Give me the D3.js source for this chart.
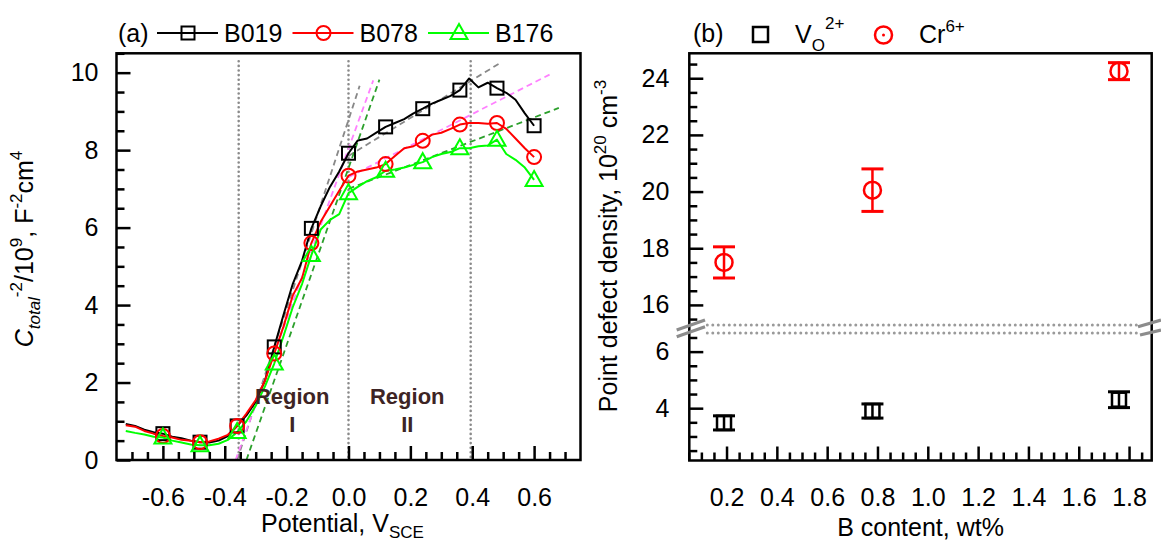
<!DOCTYPE html>
<html>
<head>
<meta charset="utf-8">
<script src="https://cdn.jsdelivr.net/npm/d3@7"></script>
<style>
  body { margin: 0; background: #fff; }
  text { font-family: "Liberation Sans", Arial, sans-serif; }
</style>
</head>
<body>
<div id="chart"></div>
<script>
// ---- panel (a) data : Mott-Schottky curves ----
const potential = [-0.72, -0.69, -0.66, -0.63, -0.60, -0.57, -0.54, -0.51, -0.48, -0.45,
  -0.42, -0.39, -0.36, -0.33, -0.30, -0.27, -0.24, -0.21, -0.18, -0.15,
  -0.12, -0.09, -0.06, -0.03, 0.00, 0.03, 0.06, 0.09, 0.12, 0.15,
  0.18, 0.21, 0.24, 0.27, 0.30, 0.33, 0.36, 0.39, 0.42, 0.45,
  0.48, 0.51, 0.54, 0.57, 0.60];
const b019 = [0.93, 0.88, 0.78, 0.72, 0.68, 0.60, 0.56, 0.50, 0.46, 0.45,
  0.50, 0.62, 0.88, 1.15, 1.50, 2.05, 2.92, 3.75, 4.55, 5.15,
  5.98, 6.55, 7.05, 7.45, 7.92, 8.25, 8.30, 8.45, 8.60, 8.70,
  8.80, 8.95, 9.07, 9.20, 9.30, 9.40, 9.55, 9.85, 9.62, 9.74,
  9.60, 9.48, 9.30, 8.95, 8.63];
const b078 = [0.90, 0.86, 0.75, 0.68, 0.62, 0.58, 0.52, 0.50, 0.46, 0.48,
  0.55, 0.65, 0.88, 1.20, 1.55, 2.05, 2.75, 3.45, 4.25, 4.70,
  5.60, 6.15, 6.55, 6.95, 7.34, 7.45, 7.50, 7.55, 7.64, 7.85,
  8.05, 8.10, 8.24, 8.40, 8.45, 8.55, 8.66, 8.70, 8.70, 8.68,
  8.70, 8.55, 8.30, 8.05, 7.82];
const b176 = [0.75, 0.70, 0.66, 0.60, 0.58, 0.50, 0.45, 0.40, 0.38, 0.38,
  0.42, 0.52, 0.72, 1.00, 1.40, 1.90, 2.49, 3.20, 3.95, 4.55,
  5.29, 5.95, 6.20, 6.35, 6.89, 7.05, 7.20, 7.30, 7.47, 7.50,
  7.55, 7.62, 7.69, 7.82, 7.90, 7.95, 8.05, 8.05, 8.10, 8.12,
  8.27, 7.90, 7.75, 7.55, 7.23];
const seriesNames = ['B019', 'B078', 'B176'];

// linear fits (start / end points, potential and C^-2)
const fit1Start = [[-0.36, 0], [-0.365, 0], [-0.33, 0]];
const fit1End = [[0.036, 9.66], [0.08, 9.8], [0.10, 9.82]];
const fit2Start = [[0.0, 7.85], [0.0, 7.3], [0.0, 7.0]];
const fit2End = [[0.49, 10.25], [0.65, 9.95], [0.68, 9.09]];
const regionBounds = [-0.355, 0.0, 0.395];

const aXTicks = [-0.6, -0.4, -0.2, 0.0, 0.2, 0.4, 0.6];
const aYTicks = [0, 2, 4, 6, 8, 10];

// ---- panel (b) data : point defect density ----
const bContent = [0.19, 0.78, 1.76];
const voDensity = [3.48, 3.90, 4.30];
const voErr = [0.25, 0.25, 0.28];
const crDensity = [17.5, 20.05, 24.25];
const crErr = [0.55, 0.75, 0.3];

const bXTicks = [0.2, 0.4, 0.6, 0.8, 1.0, 1.2, 1.4, 1.6, 1.8];
const bYTicksLow = [4, 6];
const bYTicksHigh = [16, 18, 20, 22, 24];

// ---------------------------------------------------------------
const W = 1161, H = 542;
const FS = 25;
const svg = d3.select('#chart').append('svg')
  .attr('width', W).attr('height', H);

const colors = ['#000000', '#ff0000', '#00ff00'];
const fitColors = ['#888888', '#ff80ff', '#2ca02c'];
const symbols = ['square', 'circle', 'triangle'];

function marker(g, type, x, y, color) {
  if (type === 'square') {
    g.append('rect').attr('x', x - 6.5).attr('y', y - 6.5)
      .attr('width', 13).attr('height', 13)
      .attr('fill', 'none').attr('stroke', color).attr('stroke-width', 2);
  } else if (type === 'circle') {
    g.append('circle').attr('cx', x).attr('cy', y).attr('r', 7)
      .attr('fill', 'none').attr('stroke', color).attr('stroke-width', 2);
  } else {
    g.append('path').attr('d', `M${x},${y - 9}L${x + 8.5},${y + 6}L${x - 8.5},${y + 6}Z`)
      .attr('fill', 'none').attr('stroke', color).attr('stroke-width', 2)
      .attr('stroke-linejoin', 'miter');
  }
}

function styleAxis(g) {
  g.select('.domain').remove();
  g.attr('font-size', FS).attr('font-family', '"Liberation Sans", Arial, sans-serif');
  g.selectAll('line').attr('stroke', '#000').attr('stroke-width', 2.5);
  g.selectAll('text').attr('fill', '#000');
}

function minorRange(a, b, step, majors) {
  const out = [];
  for (let i = Math.round(a / step); i * step <= b + 1e-9; i++) {
    const v = +(i * step).toFixed(3);
    if (!majors.some(m => Math.abs(m - v) < 1e-6)) out.push(v);
  }
  return out;
}

// ================= panel (a) =================
const pa = { left: 116.5, right: 580.5, top: 53.3, bottom: 460 };
const xA = d3.scaleLinear().domain([-0.75, 0.75]).range([pa.left, pa.right]);
const yA = d3.scaleLinear().domain([0, 10.5]).range([pa.bottom, pa.top]);
const gA = svg.append('g');

// region boundaries (dotted)
gA.selectAll('.bound').data(regionBounds).enter().append('line')
  .attr('x1', d => xA(d)).attr('x2', d => xA(d))
  .attr('y1', pa.top + 8).attr('y2', pa.bottom)
  .attr('stroke', '#8a8a8a').attr('stroke-width', 2.6)
  .attr('stroke-linecap', 'round').attr('stroke-dasharray', '0 4.6');

// fit lines
const fits = [];
seriesNames.forEach((s, i) => {
  fits.push({ a: fit1Start[i], b: fit1End[i], c: fitColors[i] });
  fits.push({ a: fit2Start[i], b: fit2End[i], c: fitColors[i] });
});
gA.selectAll('.fit').data(fits).enter().append('line')
  .attr('x1', d => xA(d.a[0])).attr('y1', d => yA(d.a[1]))
  .attr('x2', d => xA(d.b[0])).attr('y2', d => yA(d.b[1]))
  .attr('stroke', d => d.c).attr('stroke-width', 1.8)
  .attr('stroke-dasharray', '6 4');

// curves
const seriesVals = [b019, b078, b176];
const lineGen = d3.line().x(d => xA(d[0])).y(d => yA(d[1]));
seriesVals.forEach((vals, i) => {
  const pts = potential.map((p, j) => [p, vals[j]]);
  gA.append('path').attr('d', lineGen(pts))
    .attr('fill', 'none').attr('stroke', colors[i]).attr('stroke-width', 2)
    .attr('stroke-linejoin', 'round');
});
// markers every 0.12 V
seriesVals.forEach((vals, i) => {
  const gm = gA.append('g');
  potential.forEach((p, j) => {
    if (j % 4 === 0 && j > 0) marker(gm, symbols[i], xA(p), yA(vals[j]), colors[i]);
  });
});

// region labels
const regionText = [{ t: 'Region', n: 'I', x: -0.182 }, { t: 'Region', n: 'II', x: 0.19 }];
regionText.forEach(r => {
  gA.append('text').attr('x', xA(r.x)).attr('y', yA(1.45))
    .attr('text-anchor', 'middle').attr('font-size', 22).attr('font-weight', 'bold')
    .attr('fill', '#3d2424').text(r.t);
  gA.append('text').attr('x', xA(r.x)).attr('y', yA(0.72))
    .attr('text-anchor', 'middle').attr('font-size', 22).attr('font-weight', 'bold')
    .attr('fill', '#3d2424').text(r.n);
});

// axes
gA.append('g').attr('transform', `translate(0,${pa.bottom})`)
  .call(d3.axisBottom(xA).tickValues(aXTicks).tickSize(-14).tickPadding(28)
    .tickFormat(d => d.toFixed(1)))
  .call(styleAxis);
gA.append('g').attr('transform', `translate(0,${pa.bottom})`)
  .call(d3.axisBottom(xA).tickValues(minorRange(-0.7, 0.7, 0.05, aXTicks)).tickSize(-8).tickFormat(''))
  .call(styleAxis);
gA.append('g').attr('transform', `translate(${pa.left},0)`)
  .call(d3.axisLeft(yA).tickValues(aYTicks).tickSize(-14).tickPadding(18).tickFormat(d3.format('d')))
  .call(styleAxis);
gA.append('g').attr('transform', `translate(${pa.left},0)`)
  .call(d3.axisLeft(yA).tickValues(minorRange(0.5, 10.5, 0.5, aYTicks)).tickSize(-8).tickFormat(''))
  .call(styleAxis);

gA.append('rect').attr('x', pa.left).attr('y', pa.top)
  .attr('width', pa.right - pa.left).attr('height', pa.bottom - pa.top)
  .attr('fill', 'none').attr('stroke', '#000').attr('stroke-width', 2.5);

// axis titles
gA.append('text').attr('x', (pa.left + pa.right) / 2 - 6).attr('y', 532)
  .attr('text-anchor', 'middle').attr('font-size', FS)
  .call(t => {
    t.append('tspan').text('Potential, V');
    t.append('tspan').attr('font-size', 17).attr('dy', 6).text('SCE');
  });
gA.append('text').attr('transform', 'translate(33,249) rotate(-90)')
  .attr('text-anchor', 'middle').attr('font-size', FS)
  .call(t => {
    t.append('tspan').attr('font-style', 'italic').text('C');
    t.append('tspan').attr('font-size', 17).attr('font-style', 'italic').attr('dy', 7).text('total');
    t.append('tspan').attr('font-size', 17).attr('dy', -18).text('-2');
    t.append('tspan').attr('dy', 11).text('/10');
    t.append('tspan').attr('font-size', 17).attr('dy', -11).text('9');
    t.append('tspan').attr('dy', 11).text(', F');
    t.append('tspan').attr('font-size', 17).attr('dy', -11).text('-2');
    t.append('tspan').attr('dy', 11).text('cm');
    t.append('tspan').attr('font-size', 17).attr('dy', -11).text('4');
  });

// legend (a)
gA.append('text').attr('x', 118).attr('y', 42).attr('font-size', FS).text('(a)');
seriesNames.forEach((s, i) => {
  const x0 = 157 + i * 135.5;
  gA.append('line').attr('x1', x0).attr('x2', x0 + 61).attr('y1', 33).attr('y2', 33)
    .attr('stroke', colors[i]).attr('stroke-width', 2);
  marker(gA, symbols[i], x0 + 31, 33, colors[i]);
  gA.append('text').attr('x', x0 + 67).attr('y', 42).attr('font-size', FS).text(s);
});

// ================= panel (b) =================
const pb = { left: 689.3, right: 1151.7, top: 53.3, bottom: 460.5, brk: 329 };
const xB = d3.scaleLinear().domain([0.052, 1.89]).range([pb.left, pb.right]);
const yBLow = d3.scaleLinear().domain([2.15, 6.8]).range([pb.bottom, pb.brk]);
const yBHigh = d3.scaleLinear().domain([15.15, 24.88]).range([pb.brk, pb.top]);
const gB = svg.append('g');

// break: dotted double line
[pb.brk - 4, pb.brk + 4].forEach(y => {
  gB.append('line').attr('x1', pb.left + 18).attr('x2', pb.right - 14)
    .attr('y1', y).attr('y2', y)
    .attr('stroke', '#9a9a9a').attr('stroke-width', 3)
    .attr('stroke-linecap', 'round').attr('stroke-dasharray', '0 5.5');
});

// axes
gB.append('g').attr('transform', `translate(0,${pb.bottom})`)
  .call(d3.axisBottom(xB).tickValues(bXTicks).tickSize(-14).tickPadding(28)
    .tickFormat(d => d.toFixed(1)))
  .call(styleAxis);
gB.append('g').attr('transform', `translate(0,${pb.bottom})`)
  .call(d3.axisBottom(xB).tickValues(minorRange(0.05, 1.85, 0.05, bXTicks)).tickSize(-8).tickFormat(''))
  .call(styleAxis);
gB.append('g').attr('transform', `translate(${pb.left},0)`)
  .call(d3.axisLeft(yBLow).tickValues(bYTicksLow).tickSize(-14).tickPadding(20).tickFormat(d3.format('d')))
  .call(styleAxis);
gB.append('g').attr('transform', `translate(${pb.left},0)`)
  .call(d3.axisLeft(yBLow).tickValues(minorRange(2.5, 6.5, 0.5, bYTicksLow)).tickSize(-8).tickFormat(''))
  .call(styleAxis);
gB.append('g').attr('transform', `translate(${pb.left},0)`)
  .call(d3.axisLeft(yBHigh).tickValues(bYTicksHigh).tickSize(-14).tickPadding(20).tickFormat(d3.format('d')))
  .call(styleAxis);
gB.append('g').attr('transform', `translate(${pb.left},0)`)
  .call(d3.axisLeft(yBHigh).tickValues(minorRange(15.5, 24.5, 0.5, bYTicksHigh)).tickSize(-8).tickFormat(''))
  .call(styleAxis);

gB.append('rect').attr('x', pb.left).attr('y', pb.top)
  .attr('width', pb.right - pb.left).attr('height', pb.bottom - pb.top)
  .attr('fill', 'none').attr('stroke', '#000').attr('stroke-width', 2.5);

// break slashes on both axes
const slash = (x1, y1, x2, y2) => gB.append('line')
  .attr('x1', x1).attr('y1', y1).attr('x2', x2).attr('y2', y2)
  .attr('stroke', '#8c8c8c').attr('stroke-width', 3.2);
slash(pb.left - 12.6, pb.brk + 1, pb.left + 15.7, pb.brk - 9);
slash(pb.left - 12.6, pb.brk + 7.7, pb.left + 15.7, pb.brk - 2.3);
slash(pb.right - 13.7, pb.brk - 2.3, pb.right + 9.3, pb.brk - 9);
slash(pb.right - 11.7, pb.brk + 6, pb.right + 9.3, pb.brk + 1);

// Vo points
bContent.forEach((b, i) => {
  const x = xB(b), y = yBLow(voDensity[i]);
  const y1 = yBLow(voDensity[i] - voErr[i]), y2 = yBLow(voDensity[i] + voErr[i]);
  gB.append('line').attr('x1', x).attr('x2', x).attr('y1', y1).attr('y2', y2)
    .attr('stroke', '#000').attr('stroke-width', 2.5);
  [y1, y2].forEach(yy => gB.append('line').attr('x1', x - 11).attr('x2', x + 11)
    .attr('y1', yy).attr('y2', yy).attr('stroke', '#000').attr('stroke-width', 3));
  gB.append('rect').attr('x', x - 7).attr('y', y - 7).attr('width', 14).attr('height', 14)
    .attr('fill', 'none').attr('stroke', '#000').attr('stroke-width', 2.5);
});
// Cr points
bContent.forEach((b, i) => {
  const x = xB(b), y = yBHigh(crDensity[i]);
  const y1 = yBHigh(crDensity[i] - crErr[i]), y2 = yBHigh(crDensity[i] + crErr[i]);
  gB.append('line').attr('x1', x).attr('x2', x).attr('y1', y1).attr('y2', y2)
    .attr('stroke', '#ff0000').attr('stroke-width', 2.5);
  [y1, y2].forEach(yy => gB.append('line').attr('x1', x - 11).attr('x2', x + 11)
    .attr('y1', yy).attr('y2', yy).attr('stroke', '#ff0000').attr('stroke-width', 3));
  gB.append('circle').attr('cx', x).attr('cy', y).attr('r', 8.5)
    .attr('fill', 'none').attr('stroke', '#ff0000').attr('stroke-width', 2.5);
});

// titles
gB.append('text').attr('x', (pb.left + pb.right) / 2).attr('y', 536)
  .attr('text-anchor', 'middle').attr('font-size', FS).text('B content, wt%');
gB.append('text').attr('transform', 'translate(617,246) rotate(-90)')
  .attr('text-anchor', 'middle').attr('font-size', FS)
  .call(t => {
    t.append('tspan').text('Point defect density, 10');
    t.append('tspan').attr('font-size', 17).attr('dy', -11).text('20');
    t.append('tspan').attr('dy', 11).text(' cm');
    t.append('tspan').attr('font-size', 17).attr('dy', -11).text('-3');
  });

// legend (b)
gB.append('text').attr('x', 693).attr('y', 42).attr('font-size', FS).text('(b)');
gB.append('rect').attr('x', 753).attr('y', 27).attr('width', 15).attr('height', 15)
  .attr('fill', 'none').attr('stroke', '#000').attr('stroke-width', 2.5);
gB.append('text').attr('x', 795).attr('y', 43).attr('font-size', FS)
  .call(t => {
    t.append('tspan').text('V');
    t.append('tspan').attr('font-size', 17).attr('dy', 8).text('O');
    t.append('tspan').attr('font-size', 17).attr('dy', -22).text('2+');
  });
gB.append('circle').attr('cx', 883.5).attr('cy', 35).attr('r', 8.5)
  .attr('fill', 'none').attr('stroke', '#ff0000').attr('stroke-width', 2.5);
gB.append('circle').attr('cx', 883.5).attr('cy', 35).attr('r', 1.5).attr('fill', '#ff0000');
gB.append('text').attr('x', 919).attr('y', 43).attr('font-size', FS)
  .call(t => {
    t.append('tspan').text('Cr');
    t.append('tspan').attr('font-size', 17).attr('dy', -11).text('6+');
  });
</script>
</body>
</html>
